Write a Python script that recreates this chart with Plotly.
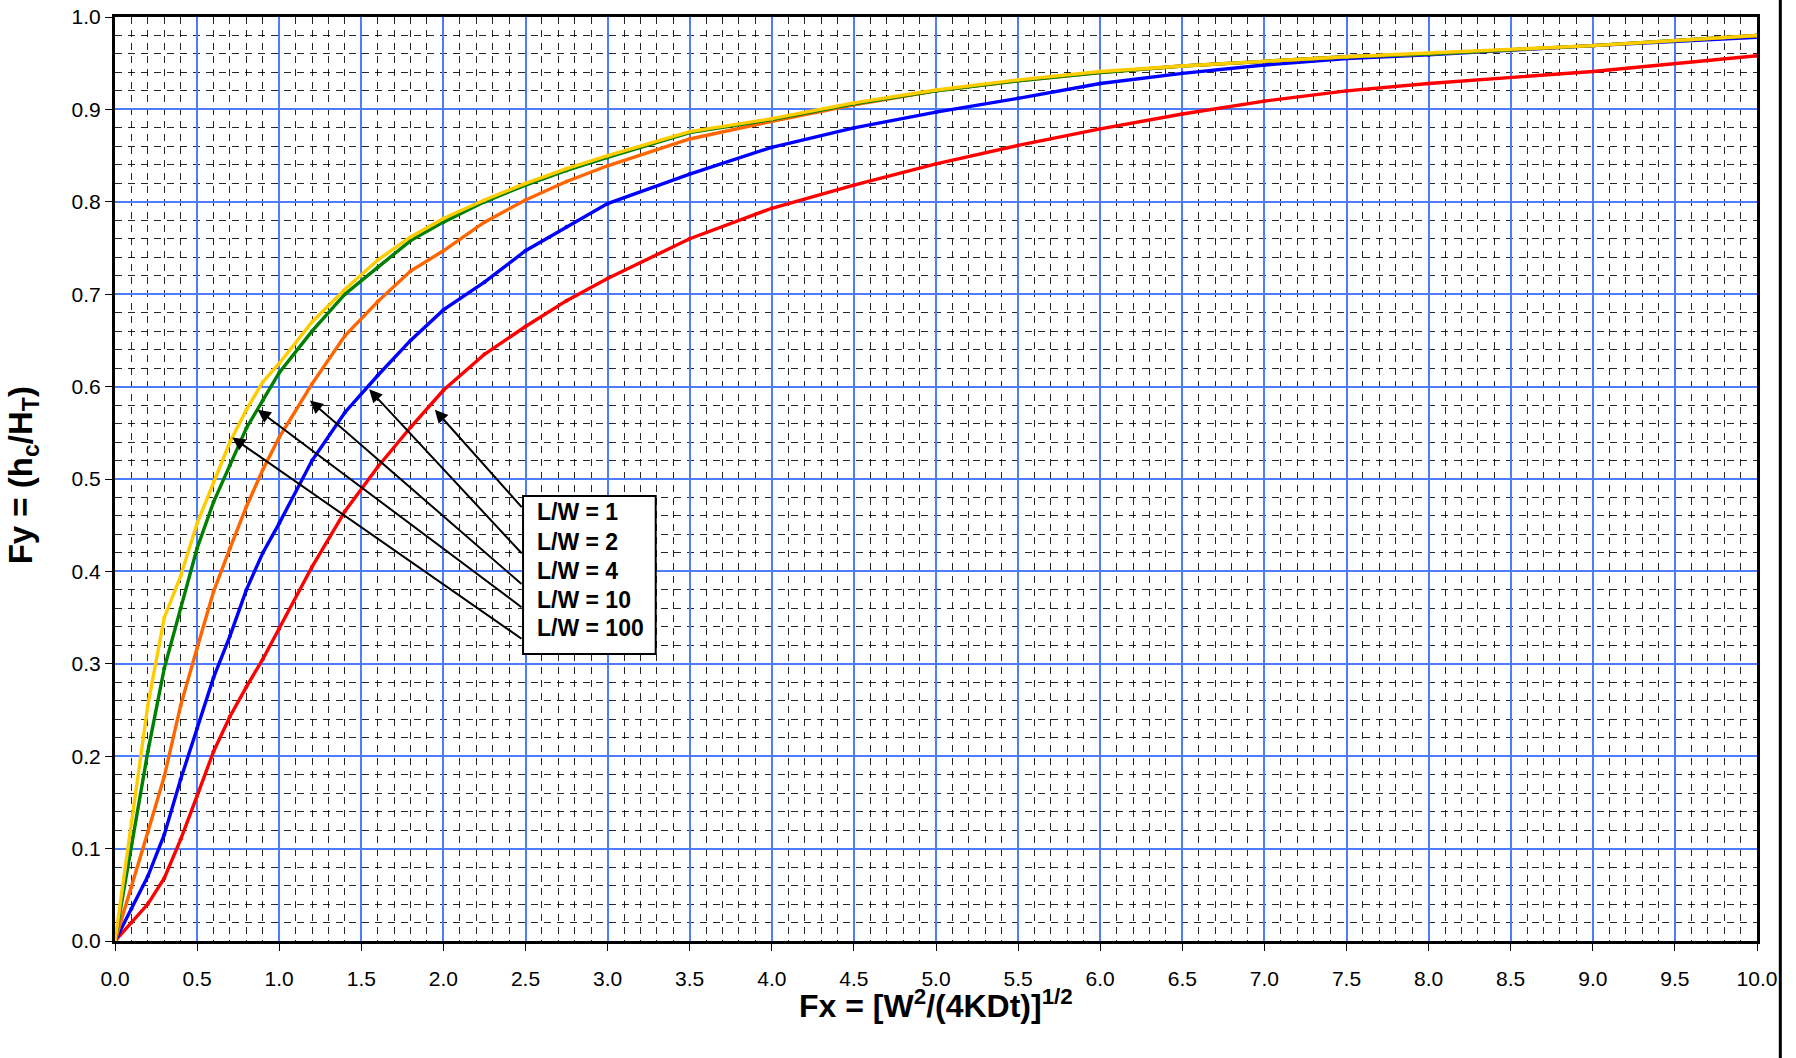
import plotly.graph_objects as go

# ---------------- data ----------------
fx = [0, 0.1, 0.2, 0.3, 0.4, 0.5, 0.6, 0.7, 0.8, 0.9, 1.0, 1.2, 1.4, 1.6, 1.8, 2.0,
      2.25, 2.5, 2.75, 3.0, 3.5, 4.0, 4.5, 5.0, 5.5, 6.0, 6.5, 7.0, 7.5, 8.0, 9.0, 10.0]

fy_lw1 = [0, 0.020, 0.040, 0.068, 0.110, 0.157, 0.205, 0.243, 0.275, 0.305, 0.338, 0.405,
          0.465, 0.513, 0.556, 0.596, 0.635, 0.665, 0.693, 0.717, 0.760, 0.793, 0.818,
          0.841, 0.861, 0.879, 0.895, 0.909, 0.920, 0.928, 0.941, 0.958]
fy_lw2 = [0, 0.035, 0.070, 0.115, 0.175, 0.230, 0.285, 0.330, 0.380, 0.420, 0.452, 0.520,
          0.572, 0.612, 0.650, 0.683, 0.713, 0.747, 0.773, 0.798, 0.830, 0.859, 0.880,
          0.897, 0.912, 0.928, 0.939, 0.948, 0.955, 0.959, 0.969, 0.978]
fy_lw4 = [0, 0.058, 0.118, 0.178, 0.255, 0.317, 0.378, 0.425, 0.470, 0.510, 0.545, 0.603,
          0.655, 0.692, 0.725, 0.747, 0.778, 0.802, 0.822, 0.839, 0.868, 0.887, 0.905,
          0.920, 0.931, 0.940, 0.947, 0.952, 0.957, 0.960, 0.969, 0.980]
fy_lw10 = [0, 0.105, 0.205, 0.295, 0.360, 0.425, 0.475, 0.515, 0.555, 0.585, 0.615, 0.660,
           0.700, 0.729, 0.758, 0.778, 0.800, 0.818, 0.834, 0.848, 0.875, 0.889, 0.906,
           0.920, 0.931, 0.940, 0.947, 0.952, 0.957, 0.960, 0.969, 0.980]
fy_lw100 = [0, 0.130, 0.255, 0.350, 0.395, 0.452, 0.497, 0.540, 0.575, 0.605, 0.625, 0.670,
            0.705, 0.737, 0.762, 0.782, 0.802, 0.820, 0.836, 0.850, 0.876, 0.890, 0.907,
            0.921, 0.932, 0.941, 0.947, 0.952, 0.957, 0.961, 0.969, 0.980]

series_names = ["L/W = 1", "L/W = 2", "L/W = 4", "L/W = 10", "L/W = 100"]
series_values = [fy_lw1, fy_lw2, fy_lw4, fy_lw10, fy_lw100]
series_colors = ["#FF0000", "#0000FF", "#FF6600", "#008000", "#FFCC00"]

x_ticks = [i * 0.5 for i in range(21)]
y_ticks = [i * 0.1 for i in range(11)]

FONT = "Liberation Sans, Arial, sans-serif"

fig = go.Figure()
for name, vals, col in zip(series_names, series_values, series_colors):
    fig.add_trace(go.Scatter(x=fx, y=vals, mode="lines+markers", name=name,
                             line=dict(color=col, width=3.4),
                             marker=dict(color=col, size=4),
                             showlegend=False))

fig.update_layout(
    width=1796, height=1058,
    margin=dict(l=115, r=39, t=17, b=117, autoexpand=False),
    paper_bgcolor="white", plot_bgcolor="white",
    font=dict(family=FONT, size=21, color="black"),
)

fig.update_xaxes(
    range=[0, 10], tickvals=x_ticks, ticktext=[f"{v:.1f}" for v in x_ticks],
    showgrid=True, gridcolor="#4D7CFE", gridwidth=2,
    showline=True, linecolor="black", linewidth=3, mirror=True,
    ticks="outside", ticklen=7, tickcolor="black", tickwidth=1,
    ticklabelstandoff=10,
    tickfont=dict(size=21), zeroline=False,
    minor=dict(dtick=0.1, showgrid=True, gridcolor="rgba(0,0,0,0.85)",
               gridwidth=1, griddash="7px,6px"),
)
fig.update_yaxes(
    range=[0, 1], tickvals=y_ticks, ticktext=[f"{v:.1f}" for v in y_ticks],
    showgrid=True, gridcolor="#4D7CFE", gridwidth=2,
    showline=True, linecolor="black", linewidth=3, mirror=True,
    ticks="outside", ticklen=7, tickcolor="black", tickwidth=1,
    tickfont=dict(size=21), zeroline=False,
    minor=dict(dtick=0.02, showgrid=True, gridcolor="rgba(0,0,0,0.85)",
               gridwidth=1, griddash="7px,6px"),
)

# axis titles
fig.add_annotation(xref="paper", yref="paper", x=0.5, y=-0.068,
                   text="<b>Fx = [W<sup>2</sup>/(4KDt)]<sup>1/2</sup></b>",
                   showarrow=False, font=dict(size=32, family=FONT),
                   xanchor="center", yanchor="middle")
fig.add_annotation(xref="paper", yref="paper", x=-0.056, y=0.504,
                   text="<b>Fy = (h<sub>c</sub>/H<sub>T</sub>)</b>",
                   showarrow=False, textangle=-90, font=dict(size=33, family=FONT),
                   xanchor="center", yanchor="middle")

# label box
fig.add_shape(type="rect", xref="x", yref="y", x0=2.485, x1=3.293, y0=0.3106, y1=0.4816,
              fillcolor="white", line=dict(color="black", width=2), layer="above")
label_y = [0.4646, 0.4321, 0.4008, 0.3690, 0.3384]
for name, ly in zip(series_names, label_y):
    fig.add_annotation(xref="x", yref="y", x=2.56, y=ly, text=f"<b>{name}</b>",
                       showarrow=False, xanchor="left", yanchor="middle",
                       font=dict(size=23, family=FONT, color="black"))

# arrows from box to curves
tails_y = [0.468, 0.418, 0.385, 0.360, 0.326]
tips = [(1.948, 0.575), (1.548, 0.597), (1.187, 0.585), (0.869, 0.575), (0.714, 0.545)]
for ty, (hx, hy) in zip(tails_y, tips):
    fig.add_annotation(xref="x", yref="y", axref="x", ayref="y",
                       x=hx, y=hy, ax=2.485, ay=ty, text="",
                       showarrow=True, arrowhead=2, arrowsize=1.3, arrowwidth=2,
                       arrowcolor="black", standoff=0, startstandoff=0)

# right border of the chart area
fig.add_shape(type="line", xref="paper", yref="paper", x0=1.0142, x1=1.0142,
              y0=-0.2, y1=1.1, line=dict(color="black", width=3))

fig.write_html("out.html")
